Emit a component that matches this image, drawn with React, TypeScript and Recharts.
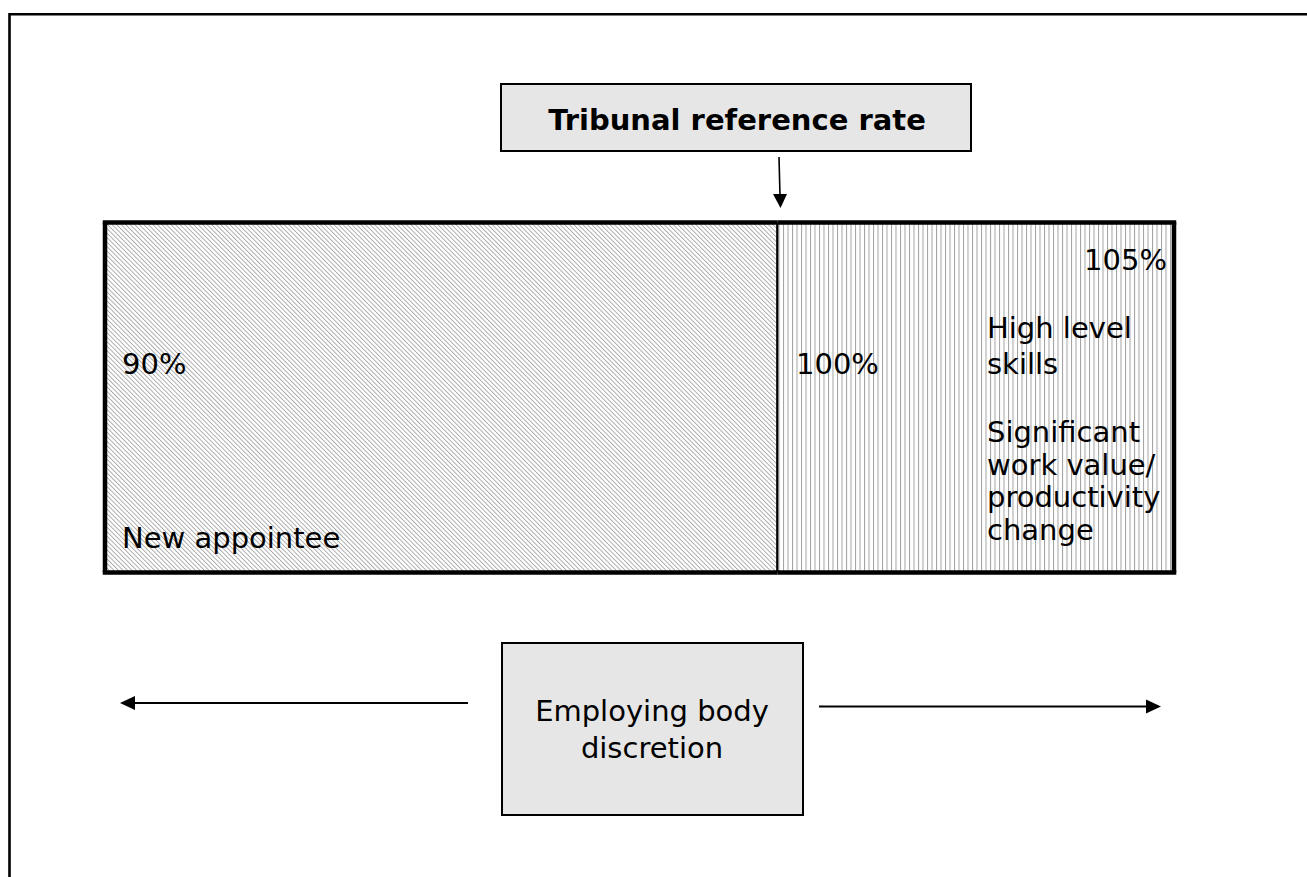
import { BarChart, Bar, XAxis, YAxis } from 'recharts';

// Segment widths are shares of the bar
const segmentKeys = ['appointee', 'reference'];
const segmentShares = [62.9, 37.1];
const rateLabels = ['90%', '100%', '105%'];
const topBoxLabel = 'Tribunal reference rate';
const bottomBoxLines = ['Employing body', 'discretion'];
const skillLines = ['High level', 'skills'];
const changeLines = ['Significant', 'work value/', 'productivity', 'change'];
const appointeeLabel = 'New appointee';

const chartData = [
  { name: 'rate', [segmentKeys[0]]: segmentShares[0], [segmentKeys[1]]: segmentShares[1] },
];

const FONT = '"DejaVu Sans", Verdana, sans-serif';
const W = 1307;
const H = 877;

// draws a segment with its own border sides; the outer edges get a heavy line
function segmentShape(side: 'left' | 'right', fill: string) {
  return (props: any) => {
    const { x, y, width, height } = props;
    const heavy = 4.5;
    const thin = 2.5;
    const r = x + width;
    const b = y + height;
    return (
      <g>
        <rect x={x} y={y} width={width} height={height} fill={fill} />
        <line x1={x - (side === 'left' ? heavy / 2 : 0)} y1={y} x2={r + (side === 'right' ? heavy / 2 : 0)} y2={y} stroke="#000" strokeWidth={heavy} />
        <line x1={x - (side === 'left' ? heavy / 2 : 0)} y1={b} x2={r + (side === 'right' ? heavy / 2 : 0)} y2={b} stroke="#000" strokeWidth={heavy} />
        {side === 'left' ? (
          <>
            <line x1={x} y1={y} x2={x} y2={b} stroke="#000" strokeWidth={heavy} />
            <line x1={r} y1={y} x2={r} y2={b} stroke="#000" strokeWidth={thin} />
          </>
        ) : (
          <line x1={r} y1={y} x2={r} y2={b} stroke="#000" strokeWidth={heavy} />
        )}
      </g>
    );
  };
}

export default function App() {
  const textStyle = { fontFamily: FONT, fontSize: 29, fill: '#000' };
  return (
    <div style={{ position: 'relative', width: W, height: H, background: '#fff' }}>
      <style>{'body{margin:0}'}</style>
      <svg width={0} height={0} style={{ position: 'absolute' }}>
        <defs>
          <pattern id="diag" width={3.2} height={3.2} patternUnits="userSpaceOnUse" patternTransform="rotate(-45)">
            <rect x={0} y={0} width={0.9} height={3.2} fill="#a6a6a6" />
          </pattern>
          <pattern id="vert" width={4.5} height={10} patternUnits="userSpaceOnUse">
            <rect x={0} y={0} width={1} height={10} fill="#a0a0a0" />
          </pattern>
        </defs>
      </svg>

      <BarChart
        width={W}
        height={H}
        data={chartData}
        layout="vertical"
        barCategoryGap={0}
        margin={{ top: 222.5, right: 133, bottom: 304.5, left: 105 }}
      >
        <XAxis type="number" domain={[0, 100]} hide />
        <YAxis type="category" dataKey="name" hide width={0} />
        <Bar dataKey={segmentKeys[0]} stackId="s" isAnimationActive={false} shape={segmentShape('left', 'url(#diag)')} />
        <Bar dataKey={segmentKeys[1]} stackId="s" isAnimationActive={false} shape={segmentShape('right', 'url(#vert)')} />
      </BarChart>

      <svg width={W} height={H} style={{ position: 'absolute', left: 0, top: 0, pointerEvents: 'none' }}>
        {/* page frame */}
        <path d={`M9.5 ${H} V14.2 H${W}`} fill="none" stroke="#000" strokeWidth={2.6} />

        {/* top box and arrow down to the split */}
        <rect x={501} y={84} width={470} height={67} fill="#e6e6e6" stroke="#000" strokeWidth={2} />
        <text x={737} y={130} textAnchor="middle" style={{ ...textStyle, fontWeight: 'bold' }}>{topBoxLabel}</text>
        <line x1={779} y1={157} x2={780} y2={196} stroke="#000" strokeWidth={1.6} />
        <polygon points="773,194 787,194 780.5,208" fill="#000" />

        {/* labels inside the bar */}
        <text x={122} y={374} style={textStyle}>{rateLabels[0]}</text>
        <text x={122} y={548} style={textStyle}>{appointeeLabel}</text>
        <text x={796} y={374} style={textStyle}>{rateLabels[1]}</text>
        <text x={1167} y={270} textAnchor="end" style={textStyle}>{rateLabels[2]}</text>
        {skillLines.map((t, i) => (
          <text key={t} x={987} y={338 + i * 36} style={textStyle}>{t}</text>
        ))}
        {changeLines.map((t, i) => (
          <text key={t} x={987} y={442 + i * 32.5} style={textStyle}>{t}</text>
        ))}

        {/* bottom box with arrows */}
        <rect x={502} y={643} width={301} height={172} fill="#e6e6e6" stroke="#000" strokeWidth={2} />
        {bottomBoxLines.map((t, i) => (
          <text key={t} x={652} y={721 + i * 36.5} textAnchor="middle" style={textStyle}>{t}</text>
        ))}
        <line x1={468} y1={703} x2={132} y2={703} stroke="#000" strokeWidth={1.8} />
        <polygon points="120,703 135,696 135,710" fill="#000" />
        <line x1={819} y1={706.5} x2={1148} y2={706.5} stroke="#000" strokeWidth={1.8} />
        <polygon points="1161,706.5 1146,699.5 1146,713.5" fill="#000" />
      </svg>
    </div>
  );
}
